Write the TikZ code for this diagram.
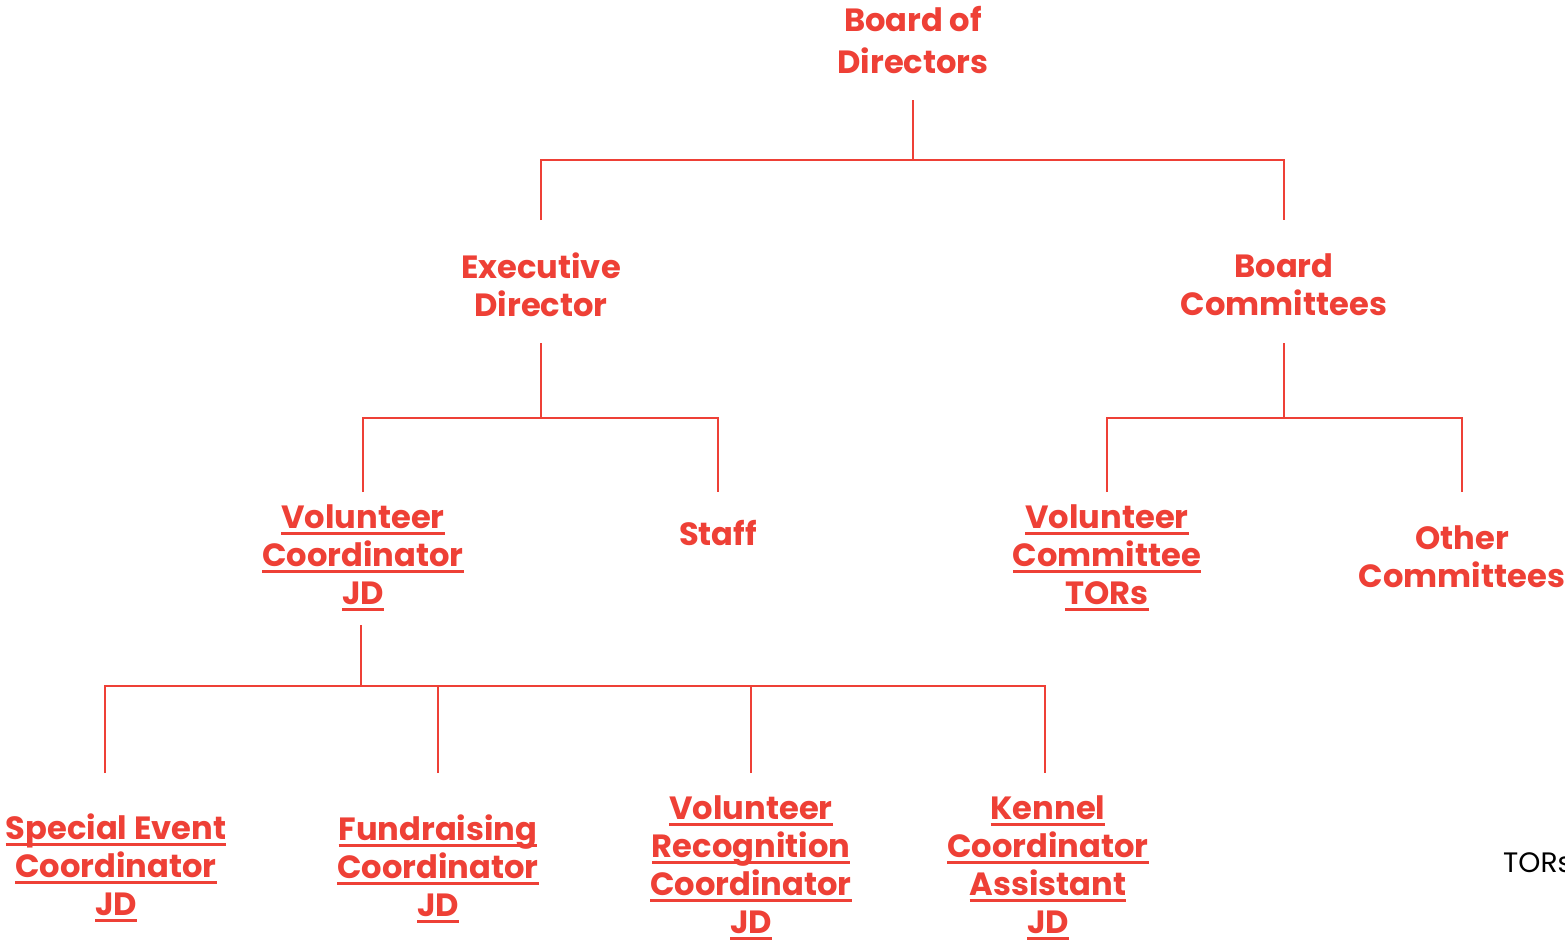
\documentclass[tikz,border=0pt]{standalone}
\usepackage{fontspec}
\setmainfont{Poppins}
\usepackage{xcolor}
\definecolor{orgred}{RGB}{238,64,54}
% underlined word, rule a little below the baseline
\newcommand\ulword[1]{\setbox0\hbox{#1}\rlap{\rule[-3.6pt]{\wd0}{1.6pt}}\box0}

\begin{document}
\begin{tikzpicture}[
    x=0.02cm, y=-0.02cm,
    every node/.style={text=orgred, align=center, font=\fontsize{18.3}{21.6}\selectfont\bfseries},
    link/.style={draw=orgred, line width=1.1pt}
]
\useasboundingbox (0,0) rectangle (1565,940);
\clip (0,0) rectangle (1565,940);

% top
\node[font=\fontsize{18.3}{23.8}\selectfont\bfseries] (bod) at (913,40) {Board of\\Directors};
\node (ed) at (541,285) {Executive\\Director};
\node (bc) at (1284,285) {Board\\Committees};

% middle
\node (vc) at (363,558) {\ulword{Volunteer}\\\ulword{Coordinator}\\\ulword{JD}};
\node (staff) at (718,533) {Staff};
\node (vct) at (1107,558) {\ulword{Volunteer}\\\ulword{Committee}\\\ulword{TORs}};
\node (oc) at (1462,557) {Other\\Committees};

% bottom
\node (se) at (116,868) {\ulword{Special Event}\\\ulword{Coordinator}\\\ulword{JD}};
\node (fr) at (438,869) {\ulword{Fundraising}\\\ulword{Coordinator}\\\ulword{JD}};
\node (vr) at (751,868) {\ulword{Volunteer}\\\ulword{Recognition}\\\ulword{Coordinator}\\\ulword{JD}};
\node (kc) at (1048,868) {\ulword{Kennel}\\\ulword{Coordinator}\\\ulword{Assistant}\\\ulword{JD}};
\node[text=black, anchor=west, font=\fontsize{16}{19}\selectfont] (tors) at (1497,863) {TORs};

% line ends
\coordinate (bod-s) at (913,100);
\coordinate (bod-j) at (913,160);
\coordinate (ed-n) at (541,220);
\coordinate (bc-n) at (1284,220);
\coordinate (ed-s) at (541,343);
\coordinate (ed-j) at (541,418);
\coordinate (vc-n) at (363,492);
\coordinate (staff-n) at (718,492);
\coordinate (bc-s) at (1284,343);
\coordinate (bc-j) at (1284,418);
\coordinate (vct-n) at (1107,492);
\coordinate (oc-n) at (1462,492);
\coordinate (vc-s) at (361,625);
\coordinate (vc-j) at (361,686);
\coordinate (se-n) at (105,773);
\coordinate (fr-n) at (438,773);
\coordinate (vr-n) at (751,773);
\coordinate (kc-n) at (1045,773);

% connectors
\draw[link] (bod-s) -- (bod-j);
\draw[link] (ed-n) |- (bod-j) -| (bc-n);
\draw[link] (ed-s) -- (ed-j);
\draw[link] (vc-n) |- (ed-j) -| (staff-n);
\draw[link] (bc-s) -- (bc-j);
\draw[link] (vct-n) |- (bc-j) -| (oc-n);
\draw[link] (vc-s) -- (vc-j);
\draw[link] (se-n) |- (vc-j) -| (kc-n);
\draw[link] (fr-n) -- (fr-n |- vc-j);
\draw[link] (vr-n) -- (vr-n |- vc-j);
\end{tikzpicture}
\end{document}
